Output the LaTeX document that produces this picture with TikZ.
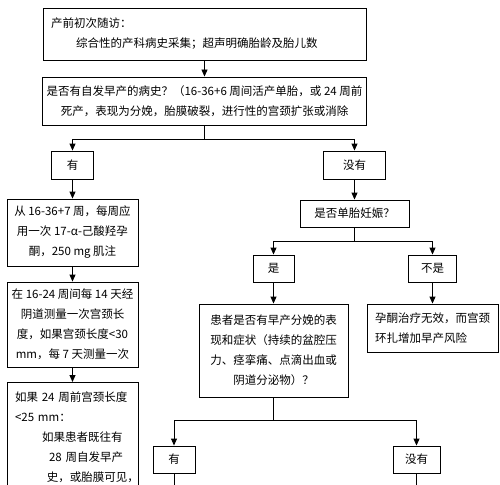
\documentclass[tikz,border=0pt]{standalone}
\usepackage{fontspec}
\newfontfamily\cjk{Noto Sans CJK SC}
\usetikzlibrary{arrows.meta}

\begin{document}
\begin{tikzpicture}[x=1pt,y=-1pt,
    box/.style={draw,line width=0.9pt,inner xsep=4pt,inner ysep=2pt,align=center,
      font=\cjk\fontsize{11.5}{20}\selectfont},
    arr/.style={line width=0.9pt,-{Triangle[length=7pt,width=6pt]}},
    wire/.style={line width=0.9pt}]
    \useasboundingbox (0,0) rectangle (500,484);
    \clip (0,0) rectangle (500,484);
    \node[box,minimum width=323pt,minimum height=52pt,text width=307pt,inner xsep=8pt,align=left] (visit) at (204.5,34)
        {产前初次随访：\\ \hspace*{25pt}综合性的产科病史采集；超声明确胎龄及胎儿数};
    \node[box,minimum width=323pt,minimum height=48pt] (hist) at (204.5,101)
        {是否有自发早产的病史？（16-36+6 周间活产单胎，或 24 周前\\死产，表现为分娩，胎膜破裂，进行性的宫颈扩张或消除};
    \node[box,minimum width=42pt,minimum height=28pt] (yes1) at (72.5,165) {有};
    \node[box,minimum width=62pt,minimum height=28pt] (no1) at (354.5,165) {没有};
    \node[box,minimum width=131pt,minimum height=67pt] (prog) at (72.5,232.5)
        {从 16-36+7 周，每周应\\用一次 17-α-己酸羟孕\\酮，250 mg 肌注};
    \node[box,minimum width=131pt,minimum height=85pt] (cervix) at (72.5,324.5)
        {在 16-24 周间每 14 天经\\阴道测量一次宫颈长\\度，如果宫颈长度<30\\mm，每 7 天测量一次};
    \node[box,anchor=north,minimum width=131pt,text width=115pt,inner xsep=8pt,inner ysep=5pt,
        text height=14.5pt,text depth=100pt,align=left] (short) at (72.5,382)
        {\mbox{如果 24 周前宫颈长度}\\\mbox{<25 mm：}\\ \hspace*{27pt}如果患者既往有\\ \hspace*{34pt}\mbox{28 周自发早产}\\ \hspace*{32pt}史，或胎膜可见，};
    \node[box,minimum width=109pt,minimum height=27pt] (single) at (354.5,213.5) {是否单胎妊娠？};
    \node[box,minimum width=41pt,minimum height=27pt] (yes2) at (273.5,268.5) {是};
    \node[box,minimum width=48pt,minimum height=27pt] (no2) at (432.5,268.5) {不是};
    \node[box,minimum width=149pt,minimum height=93pt] (sympt) at (273.5,350.5)
        {患者是否有早产分娩的表\\现和症状（持续的盆腔压\\力、痉挛痛、点滴出血或\\阴道分泌物）？};
    \node[box,minimum width=131pt,minimum height=48pt,text width=115pt,inner xsep=8pt,align=left] (cerclage) at (432.5,328)
        {孕酮治疗无效，而宫颈\\环扎增加早产风险};
    \node[box,minimum width=42pt,minimum height=27pt] (yes3) at (174,459.5) {有};
    \node[box,minimum width=47pt,minimum height=27pt] (no3) at (416.5,459.5) {没有};
    \coordinate (s1) at (204.5,139);
    \coordinate (s2) at (354.5,241);
    \coordinate (s3) at (273.5,420);
    \coordinate (e1) at (174,490);
    \coordinate (e2) at (416.5,490);
    \draw[arr] (visit) -- (hist);
    \draw[wire] (hist) -- (s1);
    \draw[arr] (s1) -| (yes1);
    \draw[arr] (s1) -| (no1);
    \draw[arr] (yes1) -- (prog);
    \draw[arr] (prog) -- (cervix);
    \draw[arr] (cervix) -- (short);
    \draw[arr] (no1) -- (single);
    \draw[wire] (single) -- (s2);
    \draw[arr] (s2) -| (yes2);
    \draw[arr] (s2) -| (no2);
    \draw[arr] (yes2) -- (sympt);
    \draw[arr] (no2) -- (cerclage);
    \draw[wire] (sympt) -- (s3);
    \draw[arr] (s3) -| (yes3);
    \draw[arr] (s3) -| (no3);
    \draw[wire] (yes3) -- (e1);
    \draw[wire] (no3) -- (e2);
\end{tikzpicture}
\end{document}
